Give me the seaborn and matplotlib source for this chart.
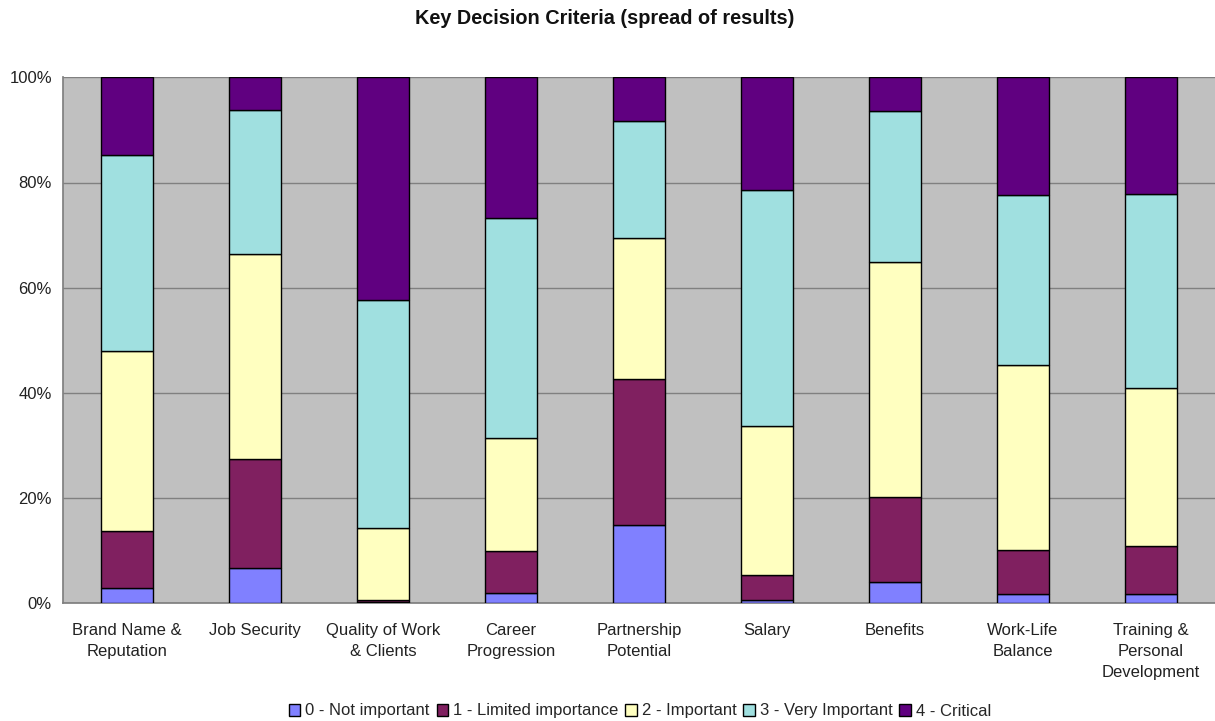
import numpy as np
import pandas as pd
import matplotlib
matplotlib.use("Agg")
import matplotlib.pyplot as plt
import seaborn as sns
from matplotlib.ticker import FuncFormatter, FixedLocator, NullFormatter
from matplotlib.patches import Patch

categories = ["Brand Name &\nReputation", "Job Security", "Quality of Work\n& Clients",
              "Career\nProgression", "Partnership\nPotential", "Salary", "Benefits",
              "Work-Life\nBalance", "Training &\nPersonal\nDevelopment"]

levels = ["0 - Not important", "1 - Limited importance", "2 - Important",
          "3 - Very Important", "4 - Critical"]

not_important = [2.9, 6.7, 0.2, 2.0, 14.8, 0.6, 4.1, 1.8, 1.7]
limited_importance = [10.9, 20.7, 0.5, 7.9, 27.8, 4.7, 16.1, 8.4, 9.2]
important = [34.2, 39.1, 13.6, 21.5, 26.9, 28.4, 44.7, 35.1, 30.0]
very_important = [37.2, 27.2, 43.3, 41.9, 22.1, 44.9, 28.6, 32.4, 37.0]
critical = [14.8, 6.3, 42.4, 26.7, 8.4, 21.4, 6.5, 22.3, 22.1]

colors = ["#8080FF", "#802060", "#FFFFC0", "#A0E0E0", "#600080"]

series = [not_important, limited_importance, important, very_important, critical]

sns.set_theme(style="white")
plt.rcParams['font.family'] = ['Liberation Sans', 'DejaVu Sans']

fig = plt.figure(figsize=(12.15, 7.21), dpi=100)
ax = fig.add_axes([63 / 1215, 1 - 603.3 / 721, 1 - 63 / 1215, (603.3 - 77.3) / 721])
ax.set_facecolor("#C0C0C0")

bottom = np.zeros(len(categories))
for lvl, vals, col in zip(levels, series, colors):
    df = pd.DataFrame({"cat": categories, "val": vals})
    sns.barplot(data=df, x="cat", y="val", bottom=bottom, color=col, width=0.41,
                edgecolor="black", linewidth=1.0, saturation=1, ax=ax, zorder=3)
    bottom = bottom + np.array(vals)

ax.set_ylim(0, 100)
ax.set_xlim(-0.5, len(categories) - 0.5)
ax.set_yticks([0, 20, 40, 60, 80, 100])
ax.yaxis.set_major_formatter(FuncFormatter(lambda v, p: f"{int(v)}%"))
ax.grid(axis="y", color="#808080", linewidth=1.0, zorder=0)
ax.set_axisbelow(True)
ax.set_xlabel("")
ax.set_ylabel("")

ax.tick_params(axis="x", which="major", length=0, labelsize=12, pad=14, colors="#222222")
ax.xaxis.set_minor_locator(FixedLocator(np.arange(-0.5, len(categories), 1.0)))
ax.xaxis.set_minor_formatter(NullFormatter())
ax.tick_params(axis="x", which="minor", length=5, width=1, color="#a0a0a0", direction="out")
ax.tick_params(axis="y", length=0, labelsize=12, pad=8, colors="#222222")
for lab in ax.get_xticklabels():
    lab.set_linespacing(1.5)

for s in ["top", "right"]:
    ax.spines[s].set_visible(False)
ax.spines["left"].set_color("#808080")
ax.spines["bottom"].set_color("#808080")

fig.text(605 / 1215, 1 - 19 / 721, "Key Decision Criteria (spread of results)",
         ha="center", va="center", fontsize=14.3, fontweight="bold", color="#111111")

handles = [Patch(facecolor=c, edgecolor="black", linewidth=1.0, label=l) for c, l in zip(colors, levels)]
fig.legend(handles=handles, loc="center", bbox_to_anchor=(640 / 1215, 1 - 711 / 721),
           ncol=5, frameon=False, fontsize=12, handlelength=0.7, handleheight=0.7,
           handletextpad=0.3, columnspacing=0.4, borderaxespad=0)

fig.savefig("out.png", dpi=100)
